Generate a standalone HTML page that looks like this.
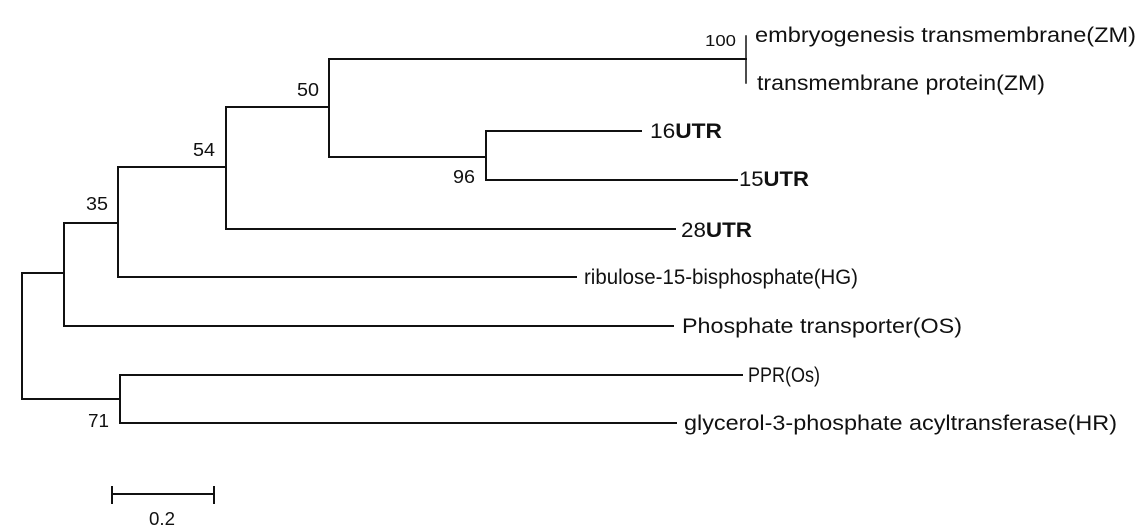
<!DOCTYPE html>
<html><head><meta charset="utf-8"><style>
html,body{margin:0;padding:0;background:#fff;}
svg{display:block;}
text{font-family:"Liberation Sans",Arial,sans-serif;fill:#111;}
</style></head><body>
<svg width="1146" height="527" viewBox="0 0 1146 527" xmlns="http://www.w3.org/2000/svg">
<g stroke="#111" stroke-width="2" fill="none" stroke-linecap="square">
<path d="M64 273 H22 V399 H120"/>
<path d="M118 223 H64 V326 H673"/>
<path d="M226 167 H118 V277 H576"/>
<path d="M329 107 H226 V229 H675"/>
<path d="M746 59 H329 V157 H486"/>
<path d="M746 36 V83" stroke-width="1.5"/>
<path d="M641 131 H486 V180 H737"/>
<path d="M742 375 H120 V423 H676"/>
<path d="M112 494 H214 M112 487 V503 M214 487 V503"/>
</g>
<g font-size="21">
<text x="755" y="42" textLength="381" lengthAdjust="spacingAndGlyphs">embryogenesis transmembrane(ZM)</text>
<text x="757" y="90" textLength="288" lengthAdjust="spacingAndGlyphs">transmembrane protein(ZM)</text>
<text x="650" y="138" textLength="72" lengthAdjust="spacingAndGlyphs">16<tspan font-weight="bold">UTR</tspan></text>
<text x="739" y="186" textLength="70" lengthAdjust="spacingAndGlyphs">15<tspan font-weight="bold">UTR</tspan></text>
<text x="681" y="237" textLength="71" lengthAdjust="spacingAndGlyphs">28<tspan font-weight="bold">UTR</tspan></text>
<text x="584" y="284" textLength="274" lengthAdjust="spacingAndGlyphs">ribulose-15-bisphosphate(HG)</text>
<text x="682" y="333" textLength="280" lengthAdjust="spacingAndGlyphs">Phosphate transporter(OS)</text>
<text x="748" y="382" textLength="72" lengthAdjust="spacingAndGlyphs">PPR(Os)</text>
<text x="684" y="430" textLength="433" lengthAdjust="spacingAndGlyphs">glycerol-3-phosphate acyltransferase(HR)</text>
</g>
<g font-size="18">
<text x="705" y="46" font-size="16" textLength="31" lengthAdjust="spacingAndGlyphs">100</text>
<text x="297" y="96" textLength="22" lengthAdjust="spacingAndGlyphs">50</text>
<text x="193" y="156" textLength="22" lengthAdjust="spacingAndGlyphs">54</text>
<text x="86" y="210" textLength="22" lengthAdjust="spacingAndGlyphs">35</text>
<text x="453" y="183" textLength="22" lengthAdjust="spacingAndGlyphs">96</text>
<text x="88" y="427" textLength="21" lengthAdjust="spacingAndGlyphs">71</text>
<text x="149" y="525" textLength="26" lengthAdjust="spacingAndGlyphs">0.2</text>
</g>
</svg>
</body></html>
